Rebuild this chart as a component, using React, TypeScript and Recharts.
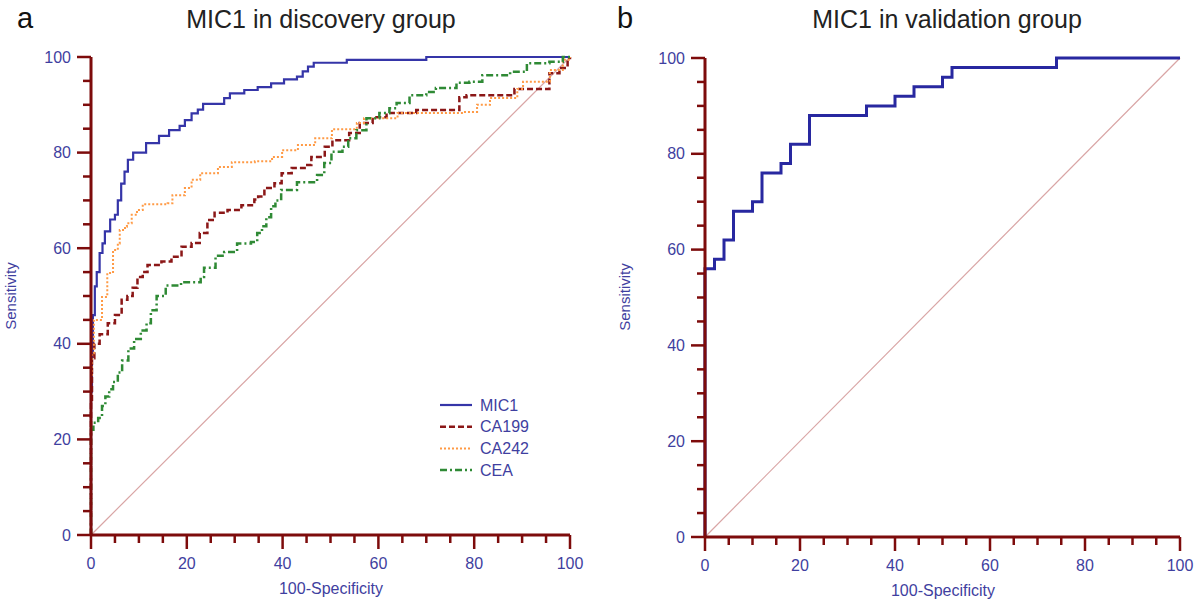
import { LineChart, Line, XAxis, YAxis, ReferenceLine } from 'recharts';

// ROC points: x = 100-Specificity, y = Sensitivity
const DISC_MIC1_X = [0, 0, 0.2, 0.4, 0.8, 1.2, 1.8, 2.4, 2.9, 4.0, 5.0, 5.6, 6.3, 7.0, 7.7, 8.8, 11.5, 14.2, 16.3, 18.5, 19.6, 21.0, 22.3, 23.4, 27.8, 29.0, 32.0, 34.8, 37.6, 40.3, 43.0, 44.2, 45.3, 46.5, 53.4, 70.0, 100];
const DISC_MIC1_Y = [0, 30, 38, 46, 52, 55, 59, 61, 63.5, 66, 67, 70, 73.5, 76, 78.5, 80, 82, 83.5, 84.7, 85.6, 86.8, 88.2, 89, 90.2, 91.4, 92.4, 93.1, 93.7, 94.5, 95.3, 95.9, 97, 98, 98.8, 99.4, 100, 100];

const DISC_CA199_X = [0, 0, 0.2, 0.7, 1.8, 3.5, 5.0, 6.4, 7.6, 8.7, 9.7, 10.8, 11.8, 14.7, 16.8, 18.9, 21.0, 22.7, 24.3, 25.8, 28.5, 31.4, 34.1, 34.9, 36.2, 38.3, 39.8, 41.9, 44.6, 46.0, 48.8, 50.4, 53.9, 56.1, 58.8, 61.7, 67.9, 76.9, 78.4, 88.4, 95.7, 97.8, 99.5, 100];
const DISC_CA199_Y = [0, 28, 37, 40, 42, 44.3, 46, 49.2, 50, 51.7, 54, 55, 56.5, 57.2, 58.2, 60.3, 61.1, 63.2, 65.9, 67.4, 68, 69, 70.2, 70.8, 72.6, 73.6, 75.7, 76.8, 77.4, 79.1, 81.2, 82.6, 84.1, 86.2, 87.4, 88.3, 88.9, 91.6, 92, 93.3, 96.6, 97.7, 99.8, 100];

const DISC_CA242_X = [0, 0, 0.2, 0.6, 2.3, 3.4, 4.6, 5.6, 6.0, 7.1, 7.5, 8.5, 9.6, 10.8, 16.0, 17.0, 19.6, 21.0, 22.8, 26.5, 29.4, 34.2, 37.8, 39.9, 43.2, 46.8, 50.3, 55.5, 57.0, 64.0, 77.7, 80.6, 83.3, 89.0, 90.2, 95.8, 98.5, 100];
const DISC_CA242_Y = [0, 33, 38, 45, 49.8, 54.8, 59.6, 61, 63.8, 64.5, 65.2, 67, 68, 69.2, 69.4, 71.1, 72.6, 74.3, 75.7, 77, 78, 78.2, 79.1, 80.5, 81.6, 83, 84.9, 86.2, 87.2, 88.3, 88.5, 90, 91.4, 93.3, 94.8, 97.3, 99.4, 100];

const DISC_CEA_X = [0, 0, 0.5, 1.5, 2.3, 3.0, 3.8, 4.6, 5.6, 6.5, 7.8, 9.0, 10.4, 11.6, 12.5, 13.7, 15.6, 18.8, 22.9, 23.6, 26.0, 27.8, 30.5, 33.4, 34.7, 35.7, 36.6, 37.6, 38.5, 39.7, 43.0, 47.2, 48.7, 50.2, 52.5, 53.7, 55.4, 57.5, 60.2, 62.3, 63.8, 66.5, 70.0, 72.0, 76.3, 79.0, 81.7, 87.5, 91.0, 95.7, 98.5, 100];
const DISC_CEA_Y = [0, 22, 23.5, 24.5, 27, 29, 30.5, 32, 34, 36.5, 39, 41, 42.8, 44.3, 47, 50, 52.2, 52.9, 54, 55.9, 58.4, 59.2, 61, 61.3, 63.2, 64.6, 66.5, 68.8, 70, 72.2, 73.8, 75.3, 77.8, 80.2, 81.2, 83, 84.7, 87.2, 88.3, 89.3, 90.4, 92, 92.7, 93.5, 94.6, 94.8, 96.2, 96.9, 98.7, 99, 100, 100];

const VALID_MIC1_X = [0, 0, 2, 4, 6, 10, 12, 16, 18, 22, 34, 40, 44, 50, 52, 74, 100];
const VALID_MIC1_Y = [0, 56, 58, 62, 68, 70, 76, 78, 82, 88, 90, 92, 94, 96, 98, 100, 100];

const TICKS = [0, 5, 10, 15, 20, 25, 30, 35, 40, 45, 50, 55, 60, 65, 70, 75, 80, 85, 90, 95, 100];

const AXIS_RED = '#7d0b0b';
const LABEL_BLUE = '#3f3fa0';
const DIAG = '#d9a5a5';
const FONT = 'Arial, "Liberation Sans", sans-serif';

const toPoints = (xs: number[], ys: number[]) => xs.map((x, i) => ({ x, y: ys[i] }));

const discSeries = [
  { name: 'MIC1', data: toPoints(DISC_MIC1_X, DISC_MIC1_Y), color: '#3535a8', dash: undefined, width: 2.2 },
  { name: 'CA199', data: toPoints(DISC_CA199_X, DISC_CA199_Y), color: '#8b1717', dash: '6 3', width: 2.5 },
  { name: 'CA242', data: toPoints(DISC_CA242_X, DISC_CA242_Y), color: '#ff9a45', dash: '2 2', width: 2 },
  { name: 'CEA', data: toPoints(DISC_CEA_X, DISC_CEA_Y), color: '#2f8a35', dash: '7 3 2 3', width: 2.5 },
];

const YTick = ({ x, y, payload }: any) => {
  const major = payload.value % 20 === 0;
  return (
    <g>
      <line x1={x} x2={x - (major ? 14 : 8)} y1={y} y2={y} stroke={AXIS_RED} strokeWidth={2.5} />
      {major && (
        <text x={x - 20} y={y} dy={5.5} textAnchor="end" fill={LABEL_BLUE} fontSize={16} fontFamily={FONT}>
          {payload.value}
        </text>
      )}
    </g>
  );
};

const XTick = ({ x, y, payload }: any) => {
  const major = payload.value % 20 === 0;
  return (
    <g>
      <line x1={x} x2={x} y1={y} y2={y + (major ? 14 : 8)} stroke={AXIS_RED} strokeWidth={2.5} />
      {major && (
        <text x={x} y={y + 34} textAnchor="middle" fill={LABEL_BLUE} fontSize={16} fontFamily={FONT}>
          {payload.value}
        </text>
      )}
    </g>
  );
};

// shared axes for both panels: left/bottom with ticks, top/right as frame
const frame = (yWidth: number) => [
  <XAxis key="x" xAxisId="b" type="number" dataKey="x" domain={[0, 100]} ticks={TICKS} interval={0}
    tick={<XTick />} tickLine={false} tickSize={0} tickMargin={0} height={60}
    axisLine={{ stroke: AXIS_RED, strokeWidth: 3 }} />,
  <XAxis key="xt" xAxisId="t" orientation="top" type="number" dataKey="x" domain={[0, 100]} tick={false} tickLine={false}
    height={0} axisLine={{ stroke: AXIS_RED, strokeWidth: 2.5 }} />,
  <YAxis key="y" yAxisId="l" type="number" domain={[0, 100]} ticks={TICKS} interval={0}
    tick={<YTick />} tickLine={false} tickSize={0} tickMargin={0} width={yWidth}
    axisLine={{ stroke: AXIS_RED, strokeWidth: 3 }} />,
  <YAxis key="yr" yAxisId="r" orientation="right" type="number" domain={[0, 100]} tick={false} tickLine={false}
    width={0} axisLine={{ stroke: AXIS_RED, strokeWidth: 2.5 }} />,
];

export default function App() {
  return (
    <div style={{ position: 'absolute', left: 0, top: 0, width: 1200, height: 606, background: '#fff', fontFamily: FONT }}>
      <div style={{ position: 'absolute', left: 0, top: 0 }}>
        <LineChart width={600} height={606} margin={{ top: 57, right: 30, bottom: 11, left: 0 }}>
          {frame(91)}
          <ReferenceLine xAxisId="b" yAxisId="l" segment={[{ x: 0, y: 0 }, { x: 100, y: 100 }]} stroke={DIAG} strokeWidth={1.2} />
          {discSeries.map((s) => (
            <Line key={s.name} xAxisId="b" yAxisId="l" name={s.name} data={s.data} dataKey="y" type="stepAfter"
              stroke={s.color} strokeWidth={s.width} strokeDasharray={s.dash} dot={false} isAnimationActive={false} />
          ))}
        </LineChart>
      </div>
      <div style={{ position: 'absolute', left: 600, top: 0 }}>
        <LineChart width={600} height={606} margin={{ top: 58, right: 20, bottom: 9, left: 0 }}>
          {frame(105)}
          <ReferenceLine xAxisId="b" yAxisId="l" segment={[{ x: 0, y: 0 }, { x: 100, y: 100 }]} stroke={DIAG} strokeWidth={1.2} />
          <Line xAxisId="b" yAxisId="l" name="MIC1" data={toPoints(VALID_MIC1_X, VALID_MIC1_Y)} dataKey="y" type="stepAfter"
            stroke="#2828a0" strokeWidth={3} dot={false} isAnimationActive={false} />
        </LineChart>
      </div>
      <svg width={1200} height={606} style={{ position: 'absolute', left: 0, top: 0, pointerEvents: 'none' }} fontFamily={FONT}>
        <text x={17} y={28} fontSize={29} fill="#111">a</text>
        <text x={321} y={28} fontSize={25} fill="#222" textAnchor="middle">MIC1 in discovery group</text>
        <text x={617} y={28} fontSize={29} fill="#111">b</text>
        <text x={947} y={28} fontSize={25} fill="#222" textAnchor="middle">MIC1 in validation group</text>
        <text transform="translate(16,296) rotate(-90)" fontSize={15} fill={LABEL_BLUE} textAnchor="middle">Sensitivity</text>
        <text transform="translate(630,297) rotate(-90)" fontSize={15} fill={LABEL_BLUE} textAnchor="middle">Sensitivity</text>
        <text x={331} y={594} fontSize={16} fill={LABEL_BLUE} textAnchor="middle">100-Specificity</text>
        <text x={943} y={596} fontSize={16} fill={LABEL_BLUE} textAnchor="middle">100-Specificity</text>
        {discSeries.map((s, i) => (
          <g key={s.name}>
            <line x1={440} x2={472} y1={405 + i * 21.7} y2={405 + i * 21.7} stroke={s.color} strokeWidth={s.width} strokeDasharray={s.dash} />
            <text x={480} y={410.5 + i * 21.7} fontSize={16} fill={LABEL_BLUE}>{s.name}</text>
          </g>
        ))}
      </svg>
    </div>
  );
}
